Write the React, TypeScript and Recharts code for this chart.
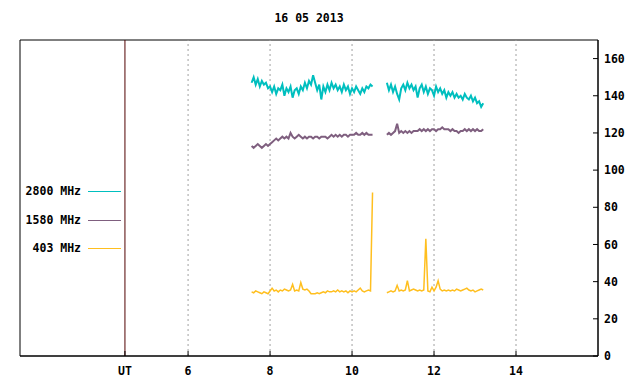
import React from "react";
import { ComposedChart, Line, XAxis, YAxis, ReferenceLine, ReferenceArea } from "recharts";

const title = "16 05 2013";
const seriesKeys = ["f2800", "f1580", "f403"];
const seriesNames = ["2800 MHz", "1580 MHz", "403 MHz"];
const seriesColors = ["#00bfbf", "#7f5f7f", "#ffbf1f"];
const seriesWidths = [2, 2, 1.5];

// two observation blocks, sampled every 0.05 h (UT)
const seg1Start = 7.55;
const seg2Start = 10.85;
const gapHour = 10.7;
const step = 0.05;

const f2800a = [
  147, 150, 146, 149, 145, 148, 146, 147, 144, 145,
  142, 145, 141, 144, 143, 146, 140, 144, 142, 145,
  139, 143, 144, 141, 145, 143, 147, 144, 148, 146,
  151, 147, 143, 146, 138, 145, 142, 146, 143, 147,
  144, 146, 143, 145, 142, 146, 143, 145, 141, 144,
  142, 145, 143, 141, 144, 142, 145, 144, 146, 145,
];
const f1580a = [
  113, 112, 113, 114, 113, 112, 113, 114, 113, 114,
  115, 116, 117, 116, 117, 118, 117, 118, 117, 120,
  118, 117, 118, 119, 118, 117, 118, 117, 118, 118,
  117, 118, 118, 117, 118, 118, 118, 117, 118, 119,
  118, 119, 118, 119, 118, 119, 119, 118, 119, 119,
  119, 120, 119, 119, 120, 119, 120, 119, 119, 119,
];
const f403a = [
  34.5, 34, 35, 34.5, 34, 33.5, 34.5, 34, 33.5, 35,
  36.5, 35, 35.5, 34.5, 35.5, 35, 36, 35.5, 35, 35.5,
  38.5, 35, 35.5, 35, 39.5, 36, 35.5, 36, 35, 33.5,
  33.5, 33.5, 34, 33.5, 34, 34.5, 34, 35, 34.5, 34.5,
  35, 34.5, 35.5, 34.5, 35, 34.5, 35, 34, 35, 34.5,
  35, 34.5, 35.5, 36.5, 35, 34.5, 35, 35.5, 35, 88,
];

const f2800b = [
  147, 143, 146, 142, 145, 141, 138, 144, 146, 143,
  147, 144, 146, 143, 145, 139, 144, 146, 142, 145,
  141, 144, 143, 140, 145, 142, 144, 141, 143, 139,
  142, 140, 142, 139, 141, 139, 140, 138, 141, 139,
  138, 140, 137, 139, 136, 137, 134, 136,
];
const f1580b = [
  119, 120, 119, 120, 121, 125, 120, 121, 120, 121,
  120, 121, 120, 121, 121, 121, 122, 121, 122, 121,
  122, 121, 122, 122, 121, 122, 122, 123, 122, 122,
  122, 121, 122, 121, 121, 120, 121, 121, 122, 121,
  122, 121, 122, 121, 122, 121, 121, 122,
];
const f403b = [
  34, 34.5, 35, 34.5, 35, 38, 35, 35.5, 35, 35.5,
  40.5, 35, 35.5, 36, 35.5, 35, 35.5, 35, 35.5, 63,
  35, 34.5, 37, 35, 37, 40.5, 36, 35, 35.5, 35,
  35.5, 35, 35.5, 35, 36, 35.5, 35, 35.5, 36, 36.5,
  35.5, 35, 35.5, 34.5, 35, 35.5, 36, 35.5,
];

const xTicks = [6, 8, 10, 12, 14];
const utHour = 4.46;
const yTicks = [0, 20, 40, 60, 80, 100, 120, 140, 160];

const data: any[] = [];
f2800a.forEach((v, i) => {
  data.push({ t: seg1Start + i * step, f2800: v, f1580: f1580a[i], f403: f403a[i] });
});
data.push({ t: gapHour, f2800: null, f1580: null, f403: null });
f2800b.forEach((v, i) => {
  data.push({ t: seg2Start + i * step, f2800: v, f1580: f1580b[i], f403: f403b[i] });
});

const font = "'DejaVu Sans Mono', monospace";
const tickStyle = { fontFamily: font, fontSize: 11.5, fontWeight: "bold", fill: "#000" };

export default function App() {
  return (
    <div style={{ position: "absolute", left: 0, top: 0, width: 640, height: 384, background: "#fff" }}>
      <div
        style={{
          position: "absolute", left: 0, width: 618, top: 11, textAlign: "center",
          fontFamily: font, fontSize: 11.5, fontWeight: "bold",
        }}
      >
        {title}
      </div>
      <ComposedChart width={640} height={384} data={data} margin={{ top: 40, right: 0, bottom: 0, left: 20 }}>
        <XAxis
          dataKey="t"
          type="number"
          domain={[1.9, 16]}
          allowDataOverflow
          ticks={[utHour, ...xTicks]}
          tickFormatter={(v: number) => (v === utHour ? "UT" : String(v))}
          height={28}
          tickSize={-5}
          tickMargin={16}
          tick={tickStyle}
          stroke="#000"
        />
        <XAxis
          xAxisId="top"
          dataKey="t"
          type="number"
          orientation="top"
          domain={[1.9, 16]}
          allowDataOverflow
          ticks={xTicks}
          height={0}
          tickSize={-5}
          tick={false}
          stroke="#000"
        />
        <YAxis
          orientation="right"
          domain={[0, 170]}
          ticks={yTicks}
          width={42}
          tickSize={-5}
          tickMargin={11}
          tick={tickStyle}
          stroke="#000"
        />
        {xTicks.map((h) => (
          <ReferenceLine key={h} x={h} stroke="#a0a0a0" strokeDasharray="2 3" />
        ))}
        <ReferenceLine x={utHour} stroke="#500000" />
        <ReferenceArea x1={1.9} x2={16} y1={0} y2={170} fill="none" stroke="#000" ifOverflow="extendDomain" />
        {seriesKeys.map((k, i) => (
          <Line
            key={k}
            dataKey={k}
            name={seriesNames[i]}
            stroke={seriesColors[i]}
            strokeWidth={seriesWidths[i]}
            dot={false}
            type="linear"
            connectNulls={false}
            isAnimationActive={false}
          />
        ))}
      </ComposedChart>
      {seriesNames.map((n, i) => (
        <div
          key={n}
          style={{
            position: "absolute", left: 0, top: 184 + i * 28.5, height: 16, width: 125,
            fontFamily: font, fontSize: 11.5, fontWeight: "bold",
          }}
        >
          <span style={{ position: "absolute", right: 44, top: 0 }}>{n}</span>
          <span
            style={{
              position: "absolute", left: 88, width: 33, top: 7, height: 1, background: seriesColors[i],
            }}
          />
        </div>
      ))}
    </div>
  );
}
